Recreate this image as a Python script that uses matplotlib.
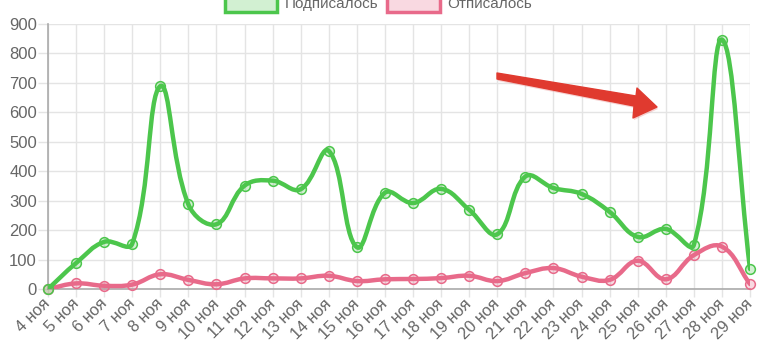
import numpy as np
import matplotlib
matplotlib.use("Agg")
import matplotlib.pyplot as plt
from matplotlib.path import Path
from matplotlib.patches import PathPatch, Rectangle, Polygon

plt.rcParams['font.family'] = ['Liberation Sans', 'DejaVu Sans']

# ---- data ----
days = list(range(4, 30))
labels = [f"{d} ноя" for d in days]
subscribed = [0, 88, 160, 154, 689, 287, 220, 351, 368, 339, 469, 142, 327,
              292, 340, 269, 186, 382, 343, 323, 262, 177, 204, 150, 847, 68]
unsubscribed = [0, 19, 11, 15, 50, 31, 16, 36, 36, 36, 45, 27, 33,
                34, 37, 45, 27, 54, 71, 42, 31, 96, 33, 115, 144, 17]
series_names = ["Подписалось", "Отписалось"]
y_ticks = list(range(0, 1000, 100))

GREEN = '#4cc64c'
GREEN_FILL = (0.30, 0.78, 0.30, 0.25)
RED = '#e86a8a'
RED_FILL = (0.91, 0.42, 0.54, 0.25)
GRID = '#e4e4e4'
TXT = '#666666'

W, H = 766, 353
fig = plt.figure(figsize=(W / 100, H / 100), dpi=100)
L, R, T, B = 48, 750, 24, 289
ax = fig.add_axes([L / W, 1 - B / H, (R - L) / W, (B - T) / H])

x = np.arange(len(labels))
ax.set_xlim(0, len(labels) - 1)
ax.set_ylim(0, 900)

sx = (R - L) / (len(labels) - 1)
sy = (B - T) / 900.0


def bezier_path(xs, ys, t=0.4):
    n = len(xs)
    px = np.array(xs, float) * sx
    py = np.array(ys, float) * sy
    c1 = []
    c2 = []
    for i in range(n):
        pi = max(i - 1, 0)
        ni = min(i + 1, n - 1)
        d01 = np.hypot(px[i] - px[pi], py[i] - py[pi])
        d12 = np.hypot(px[ni] - px[i], py[ni] - py[i])
        tot = d01 + d12
        s01 = d01 / tot if tot else 0
        s12 = d12 / tot if tot else 0
        fa, fb = t * s01, t * s12
        dx, dy = px[ni] - px[pi], py[ni] - py[pi]
        c1.append((px[i] - fa * dx, min(max(py[i] - fa * dy, 0), 900 * sy)))
        c2.append((px[i] + fb * dx, min(max(py[i] + fb * dy, 0), 900 * sy)))
    verts = [(px[0] / sx, py[0] / sy)]
    codes = [Path.MOVETO]
    for i in range(n - 1):
        verts += [(c2[i][0] / sx, c2[i][1] / sy),
                  (c1[i + 1][0] / sx, c1[i + 1][1] / sy),
                  (px[i + 1] / sx, py[i + 1] / sy)]
        codes += [Path.CURVE4] * 3
    return Path(verts, codes)


for vals, col, fill, z in [(unsubscribed, RED, RED_FILL, 3), (subscribed, GREEN, GREEN_FILL, 4)]:
    p = bezier_path(x, vals)
    ax.add_patch(PathPatch(p, facecolor='none', edgecolor=col, lw=3.2,
                           zorder=z, capstyle='round', joinstyle='round'))
    ax.plot(x, vals, 'o', ms=7, mfc=fill, mec=col, mew=1.1,
            zorder=z + 0.5, clip_on=False)

ax.set_xticks(x)
ax.set_xticklabels(labels, rotation=45, ha='right', va='center',
                   rotation_mode='anchor', color=TXT, fontsize=11.8)
ax.set_yticks(y_ticks)
ax.set_yticklabels([str(v) for v in y_ticks], color=TXT, fontsize=12)
ax.tick_params(axis='y', length=7, color=GRID, width=1, pad=1)
ax.tick_params(axis='x', length=6, color=GRID, width=1, pad=3)
ax.grid(True, color=GRID, lw=1)
ax.set_axisbelow(True)
for s in ['top', 'right']:
    ax.spines[s].set_visible(False)
ax.spines['left'].set_color('#aaaaaa')
ax.spines['bottom'].set_color('#aaaaaa')
ax.spines['left'].set_linewidth(1.2)
ax.spines['bottom'].set_linewidth(1.2)


def fx(px_):
    return px_ / W


def fy(py_):
    return 1 - py_ / H


# ---- legend (partially cut at top, as in the reference) ----
for (x0, x1, tx, col, fill, name) in [(225, 277, 285, GREEN, GREEN_FILL, series_names[0]),
                                        (387, 440, 447, RED, RED_FILL, series_names[1])]:
    fig.patches.append(Rectangle((fx(x0), fy(12)), fx(x1) - fx(x0), fy(-6) - fy(12),
                                 transform=fig.transFigure, facecolor=fill,
                                 edgecolor=col, lw=2.5, clip_on=False))
    fig.text(fx(tx), fy(8), name, color=TXT, fontsize=11, ha='left',
             va='baseline')

# ---- red arrow annotation ----
arrow_px = [(497, 73), (636, 96), (637, 88), (657, 107), (633, 118), (634, 106), (497, 79)]
shadow = [(px_ + 1, py_ + 2) for px_, py_ in arrow_px]
fig.patches.append(Polygon([(fx(a), fy(b)) for a, b in shadow], closed=True,
                           transform=fig.transFigure, facecolor=(0.9, 0.5, 0.5, 0.35),
                           edgecolor='none', zorder=9))
fig.patches.append(Polygon([(fx(a), fy(b)) for a, b in arrow_px], closed=True,
                           transform=fig.transFigure, facecolor='#e03a2f',
                           edgecolor='#e03a2f', lw=1, joinstyle='round', zorder=10))

fig.savefig('out.png', dpi=100)
